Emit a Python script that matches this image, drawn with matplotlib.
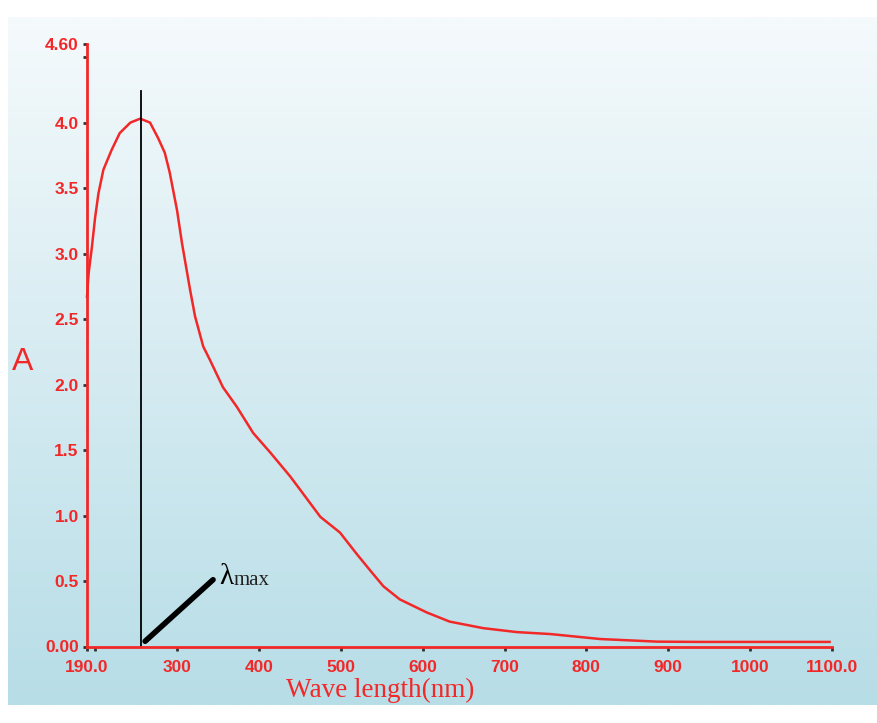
import numpy as np
import matplotlib.pyplot as plt

# absorbance
wavelength = [190, 192, 196, 200, 204, 210, 220, 230, 243, 255, 267, 277, 285,
              291, 300, 306, 316, 322, 332, 340, 356, 373, 393, 414, 438, 450,
              475, 499, 519, 536, 552, 572, 605, 633, 674, 715, 756, 817, 887,
              939, 1097]
absorbance = [2.67, 2.85, 3.05, 3.28, 3.46, 3.64, 3.79, 3.92, 4.00, 4.03, 4.00,
              3.88, 3.77, 3.62, 3.33, 3.08, 2.72, 2.52, 2.29, 2.19, 1.98, 1.83,
              1.63, 1.48, 1.30, 1.20, 0.99, 0.87, 0.71, 0.58, 0.46, 0.36, 0.26,
              0.19, 0.14, 0.11, 0.095, 0.057, 0.037, 0.035, 0.035]

lambda_max = 256
x_ticks = [190, 200, 300, 400, 500, 600, 700, 800, 900, 1000, 1100]
x_labels = ["190.0", "", "300", "400", "500", "600", "700", "800", "900", "1000", "1100.0"]
y_ticks = [0, 0.5, 1.0, 1.5, 2.0, 2.5, 3.0, 3.5, 4.0, 4.5, 4.6]
y_labels = ["0.00", "0.5", "1.0", "1.5", "2.0", "2.5", "3.0", "3.5", "4.0", "", "4.60"]

red = "#f22828"

fig = plt.figure(figsize=(8.77, 7.23), dpi=100, facecolor="white")

# light blue gradient panel behind everything
bg = fig.add_axes([8 / 877, 18 / 723, 869 / 877, 688 / 723], zorder=0)
top = np.array([245, 250, 252]) / 255
bottom = np.array([183, 221, 231]) / 255
t = np.linspace(0, 1, 256)[:, None]
grad = top + (bottom - top) * t ** 1.0
bg.imshow(grad[:, None, :].repeat(2, axis=1), aspect="auto", extent=[0, 1, 0, 1])
bg.axis("off")

ax = fig.add_axes([87 / 877, 76.5 / 723, 745 / 877, 602.5 / 723], zorder=1)
ax.patch.set_alpha(0)

ax.plot(wavelength, absorbance, color=red, lw=1.8, clip_on=False)
ax.plot([lambda_max, lambda_max], [0, 4.24], color="black", lw=1.3)
ax.plot([261, 344], [0.04, 0.51], color="black", lw=4, solid_capstyle="round")
ax.text(351, 0.48, "λ", family="Liberation Serif", fontsize=21, color="black")
ax.text(369, 0.47, "max", family="Liberation Serif", fontsize=15, color="#222222")

ax.set_xlim(190, 1100)
ax.set_ylim(0, 4.6)
ax.set_xticks(x_ticks)
ax.set_xticklabels(x_labels)
ax.set_yticks(y_ticks)
ax.set_yticklabels(y_labels)

for side in ["top", "right"]:
    ax.spines[side].set_visible(False)
for side in ["left", "bottom"]:
    ax.spines[side].set_color(red)
    ax.spines[side].set_linewidth(2)

ax.tick_params(length=3, width=2, color="#333333", labelcolor=red, pad=3)
ax.tick_params(axis="x", pad=7)
for lab in ax.get_xticklabels() + ax.get_yticklabels():
    lab.set_family("Liberation Sans")
    lab.set_fontweight("bold")
    lab.set_fontsize(12.5)

fig.text(23 / 877, 1 - 362 / 723, "A", color=red, fontsize=23,
         family="Liberation Sans", ha="center", va="center")
fig.text(380 / 877, 1 - 690 / 723, "Wave length(nm)", color=red, fontsize=19.5,
         family="Liberation Serif", ha="center", va="center")

fig.savefig("out.png", dpi=100)
